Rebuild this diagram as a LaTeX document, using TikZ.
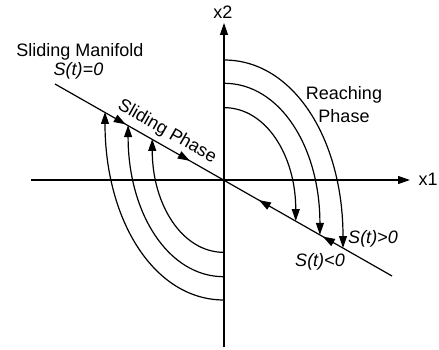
\documentclass[tikz,border=0pt]{standalone}
\usepackage{fontspec}
\setmainfont{Liberation Sans}
\usetikzlibrary{arrows.meta,decorations.markings}
\begin{document}
\begin{tikzpicture}[x=1pt,y=-1pt, line width=1.2pt,
  tri/.tip={Triangle[length=12pt,width=8pt]},
  tipped/.style={-tri},
  lbl/.style={font=\fontsize{18}{22}\selectfont, inner sep=0pt},
  ilbl/.style={font=\fontsize{18}{22}\selectfont\itshape, inner sep=0pt}]
\useasboundingbox (0,0) rectangle (439,350);
% axes
\coordinate (xl) at (31,180);
\coordinate (xr) at (410,180);
\coordinate (yb) at (224,347);
\coordinate (yt) at (224,23);
\draw[tipped] (xl) -- (xr);
\draw[tipped] (yb) -- (yt);
\node[lbl, anchor=base] (x1) at (428,185) {x1};
\node[lbl, anchor=base] (x2) at (223,19) {x2};
% sliding manifold
\coordinate (mA) at (55,84);
\coordinate (mB) at (392,276);
\draw[postaction={decorate}, decoration={markings,
  mark=at position 0.21 with {\arrow{tri}},
  mark=at position 0.40 with {\arrow{tri}},
  mark=at position 0.605 with {\arrowreversed{tri}},
  mark=at position 0.795 with {\arrowreversed{tri}}}] (mA) -- (mB);
% trajectories
\foreach \s in {1,0.806,0.603}{
  \begin{scope}[shift={(224,180)}, scale=\s]
    \draw[tipped] (0,-120) .. controls (70,-120) and (119,-40) .. (119,68);
    \draw[tipped] (0,120) .. controls (-70,120) and (-119,40) .. (-119,-68);
  \end{scope}
}
% labels
\node[lbl, anchor=base] (sm) at (80,56.5) {Sliding Manifold};
\node[ilbl, anchor=base] (s0) at (78.5,76) {S(t)=0};
\node[lbl, anchor=base] (rc) at (344,99.5) {Reaching};
\node[lbl, anchor=base] (ph) at (344,122.5) {Phase};
\node[lbl, rotate=-29.7] (sp) at (167,132) {Sliding Phase};
\node[ilbl, anchor=base] (sg) at (373,243) {S(t)>0};
\node[ilbl, anchor=base] (sl) at (320,266) {S(t)<0};
\end{tikzpicture}
\end{document}
